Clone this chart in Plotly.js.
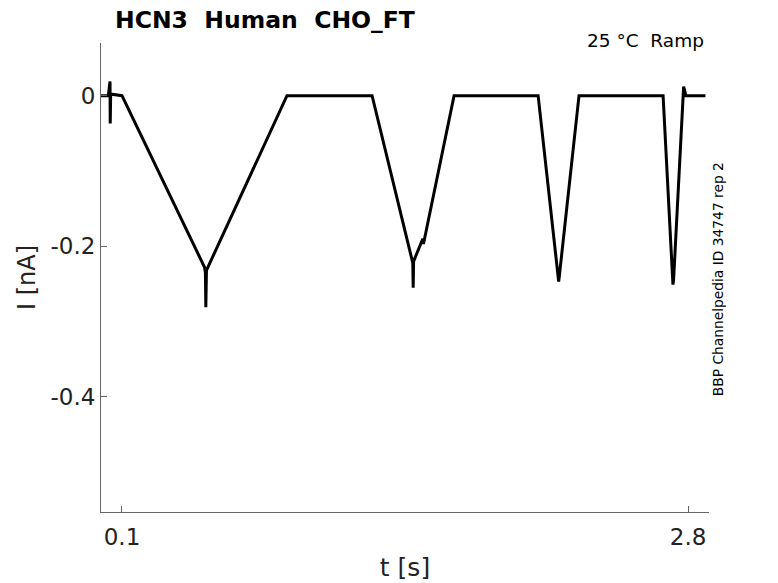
<!DOCTYPE html>
<html>
<head>
<meta charset="utf-8">
<script src="https://cdn.plot.ly/plotly-3.0.1.min.js"></script>
<style>
  html, body { margin: 0; padding: 0; background: #fff; }
  #chart { width: 778px; height: 583px; }
</style>
</head>
<body>
<div id="chart"></div>
<script>
// time points [s] and current [nA]
const timeS = [0.0, 0.035, 0.043, 0.044, 0.046, 0.05, 0.1,
    0.494, 0.498, 0.50, 0.503, 0.887,
    1.293, 1.487, 1.489, 1.491, 1.535, 1.538, 1.684,
    2.085, 2.183, 2.186, 2.28,
    2.681, 2.728, 2.731, 2.777, 2.779, 2.79, 2.883];
const currentNA = [0.0, 0.0, 0.019, -0.037, 0.0, 0.002, 0.0,
    -0.228, -0.235, -0.281, -0.232, 0.0,
    0.0, -0.222, -0.255, -0.22, -0.19, -0.197, 0.0,
    0.0, -0.247, -0.24, 0.0,
    0.0, -0.251, -0.245, 0.0, 0.012, 0.0, 0.0];

const xTicks = [0.1, 2.8];
const xTickText = ['0.1', '2.8'];
const yTicks = [0, -0.2, -0.4];
const yTickText = ['0', '-0.2', '-0.4'];

const titleText = '<b>HCN3  Human  CHO_FT</b>';
const condText = '25 °C  Ramp';
const sideText = 'BBP Channelpedia ID 34747 rep 2';

const font = 'DejaVu Sans, sans-serif';

const trace = {
    type: 'scatter',
    mode: 'lines',
    x: timeS,
    y: currentNA,
    line: { color: '#000', width: 3 },
    hoverinfo: 'skip',
    showlegend: false
};

const layout = {
    width: 778,
    height: 583,
    margin: { l: 101, r: 69, t: 43, b: 71 },
    paper_bgcolor: '#fff',
    plot_bgcolor: '#fff',
    font: { family: font, color: '#222' },
    showlegend: false,
    xaxis: {
        range: [0, 2.9],
        tickmode: 'array',
        tickvals: xTicks,
        ticktext: xTickText,
        ticks: 'inside',
        ticklen: 6,
        tickcolor: '#666',
        ticklabelstandoff: 4,
        tickfont: { size: 23, color: '#222' },
        showline: true,
        linecolor: '#666',
        linewidth: 1,
        showgrid: false,
        zeroline: false,
        title: { text: 't [s]', font: { size: 25, color: '#222' }, standoff: 9 }
    },
    yaxis: {
        range: [-0.553, 0.07],
        tickmode: 'array',
        tickvals: yTicks,
        ticktext: yTickText,
        ticks: 'inside',
        ticklen: 6,
        tickcolor: '#666',
        tickfont: { size: 23, color: '#222' },
        showline: true,
        linecolor: '#666',
        linewidth: 1,
        showgrid: false,
        zeroline: false,
        title: { text: 'I [nA]', font: { size: 24, color: '#222' }, standoff: 8 }
    },
    annotations: [
        {
            text: titleText, xref: 'paper', yref: 'paper',
            x: 0.02, y: 1.0, xanchor: 'left', yanchor: 'bottom', yshift: 7,
            showarrow: false, font: { size: 23.5, color: '#000', family: font }
        },
        {
            text: condText, xref: 'paper', yref: 'paper',
            x: 0.995, y: 1.0, xanchor: 'right', yanchor: 'top', yshift: 15,
            showarrow: false, font: { size: 18.5, color: '#000', family: font }
        },
        {
            text: sideText, xref: 'paper', yref: 'paper',
            x: 1.0, y: 0.75, xanchor: 'left', yanchor: 'top', xshift: -1,
            textangle: -90, showarrow: false,
            font: { size: 13.8, color: '#000', family: font }
        }
    ]
};

Plotly.newPlot('chart', [trace], layout, { staticPlot: true, displayModeBar: false });
</script>
</body>
</html>
